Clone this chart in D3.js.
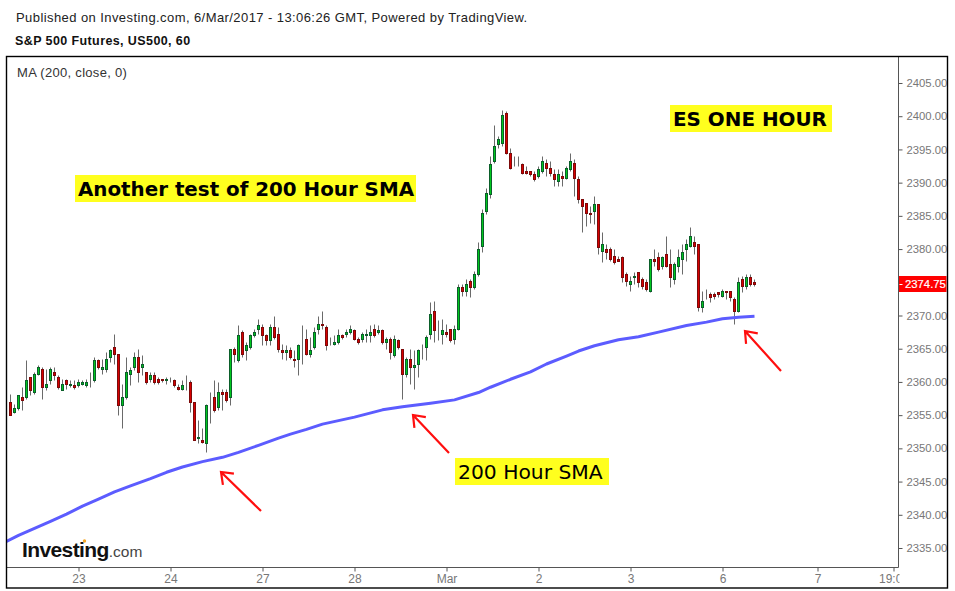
<!DOCTYPE html>
<html>
<head>
<script src="https://d3js.org/d3.v7.min.js"></script>
<style>
  body { margin: 0; background: #fff; }
  svg { display: block; font-family: "Liberation Sans", Arial, sans-serif; }
  .axis .domain { stroke: #555; }
  .axis line { stroke: #555; }
  .axis text { fill: #777; font-size: 11.3px; font-family: "Liberation Sans", Arial, sans-serif; }
  .xaxis text { font-size: 12px; }
</style>
</head>
<body>
<svg id="chart" width="955" height="591"></svg>
<script>
// hourly candles
const opens = [
  2357, 2355.5, 2356, 2357.75, 2357.75, 2360.75, 2358.5, 2361.25, 2362, 2359.25,
  2360.25, 2361.5, 2360.75, 2358.75, 2360.25, 2359.5, 2359.5, 2359.5, 2359.75, 2359.5,
  2359.75, 2360.25, 2363.25, 2362, 2362, 2363.75, 2365.25, 2364.25, 2356.5, 2357.75,
  2361.25, 2362.25, 2363.75, 2362.25, 2361.5, 2360.5, 2361, 2360.5, 2360.5, 2360.25,
  2360.25, 2360.25, 2359.25, 2359, 2359.5, 2360, 2357, 2351.5, 2351.25, 2350.75,
  2357.5, 2357.75, 2356.25, 2358.5, 2358.5, 2357.75, 2365, 2363.25, 2367.5, 2364.75,
  2365.25, 2367, 2368, 2368.25, 2367, 2366.25, 2368.25, 2367.25, 2364.75, 2364.5,
  2364.75, 2363.5, 2363.5, 2365.75, 2366.5, 2364.25, 2365.25, 2368, 2368.75, 2368.25,
  2365.75, 2365.75, 2366, 2367, 2367.25, 2367.5, 2367.75, 2366.5, 2366.5, 2367,
  2367, 2368, 2367.5, 2367.75, 2366, 2366.5, 2364, 2366.25, 2365, 2361.25,
  2363.5, 2362.25, 2362.75, 2364.75, 2365.25, 2367.25, 2370.75, 2367.5, 2367.25, 2367.5,
  2368, 2366.5, 2368, 2374.25, 2373.75, 2375.25, 2374.25, 2376.25, 2380.5, 2385.75,
  2388.25, 2393.25, 2395.75, 2396, 2400.5, 2394.5, 2393, 2393, 2392.75, 2391.75,
  2391.75, 2391.25, 2391, 2391.75, 2393, 2392.25, 2391.25, 2390.25, 2391, 2390.75,
  2392, 2393, 2390.5, 2387.5, 2387, 2385.5, 2385.75, 2386.75, 2379.75, 2380,
  2380, 2379, 2378.5, 2378.75, 2376.25, 2374.75, 2375.75, 2376.5, 2375.5, 2375,
  2373.75, 2378.5, 2378.75, 2377.5, 2379.25, 2377.75, 2375.5, 2377.5, 2378.5, 2380,
  2380.5, 2381, 2380.75, 2371.25, 2372.75, 2373.25, 2373.25, 2373.5, 2373, 2373.75,
  2373.75, 2372.5, 2370.75, 2375.5, 2374.5, 2375.75, 2375
];
const highs = [
  2358.25, 2356.75, 2358, 2359.25, 2363.25, 2360.75, 2361.5, 2362.5, 2362.25, 2362,
  2362.25, 2362.25, 2361, 2360.5, 2360.5, 2360.25, 2360.25, 2360.5, 2360.25, 2360.5,
  2361.5, 2363.75, 2363.5, 2363.5, 2364.5, 2365, 2367.25, 2364.25, 2359.75, 2363.75,
  2362.25, 2364.5, 2365, 2364, 2361.5, 2361.5, 2361.5, 2360.75, 2360.5, 2360.75,
  2360.75, 2360.5, 2359.75, 2360.25, 2361, 2360.25, 2357, 2354.25, 2353, 2356.75,
  2358.5, 2360.25, 2360, 2359, 2359, 2365, 2365.25, 2368.5, 2367.75, 2366,
  2367.25, 2368, 2369.5, 2368.75, 2367.25, 2368.75, 2370, 2368.25, 2365.75, 2365.5,
  2365.25, 2364.75, 2365.75, 2368.5, 2368, 2366.75, 2368.25, 2370, 2370.75, 2368.5,
  2366.75, 2367, 2368, 2367.25, 2368, 2368.5, 2368, 2366.75, 2367.5, 2368,
  2368.5, 2368.75, 2368.5, 2368, 2366.75, 2366.75, 2367, 2366.5, 2365, 2363.75,
  2365, 2364.75, 2365, 2365.75, 2367, 2372, 2372.25, 2369.25, 2369.5, 2368.75,
  2368, 2368.5, 2374.75, 2374.75, 2375.5, 2375.5, 2376.75, 2381, 2386, 2389.25,
  2394, 2398.75, 2397, 2401, 2400.75, 2395.25, 2394, 2394, 2393, 2392.5,
  2391.75, 2391.75, 2392.5, 2394, 2393.5, 2393.25, 2392, 2392, 2391.75, 2392.5,
  2394.5, 2393.5, 2391, 2387.5, 2387, 2386.5, 2388, 2386.75, 2382.5, 2380.75,
  2380.25, 2380, 2379, 2379, 2376.5, 2376, 2376.5, 2376.5, 2375.75, 2375.5,
  2378.5, 2380, 2379.5, 2379, 2382, 2380, 2378, 2380, 2380.75, 2381.5,
  2383.25, 2382, 2380.75, 2373.75, 2374, 2373.5, 2373.5, 2373.5, 2374, 2373.75,
  2373.75, 2372.75, 2375.75, 2376, 2376.25, 2376.25, 2375.5
];
const lows = [
  2355, 2355.25, 2355.75, 2355.75, 2357.5, 2358, 2358.25, 2361, 2357.5, 2358.75,
  2359.75, 2360.25, 2359, 2358.75, 2359, 2359.25, 2359, 2359.25, 2359.5, 2359.25,
  2359.25, 2360, 2362, 2361.25, 2361.5, 2363, 2362.75, 2355, 2353, 2357.5,
  2359.5, 2361.75, 2360, 2361, 2359.75, 2360, 2359.75, 2359.75, 2360, 2359.75,
  2360, 2359.25, 2358.75, 2358.75, 2358.75, 2355.5, 2351.25, 2350.75, 2350.75, 2349.5,
  2353.75, 2355.5, 2355.75, 2355.75, 2357, 2356.5, 2363, 2363, 2363.75, 2363.25,
  2365, 2366.75, 2367.25, 2365.5, 2365.5, 2365.5, 2366.5, 2364.5, 2363.5, 2363.25,
  2363.5, 2362.25, 2361, 2362.75, 2364, 2363.75, 2365, 2367.25, 2368, 2364.75,
  2365.5, 2365.5, 2365.75, 2366.5, 2366.75, 2367.25, 2366.25, 2365.75, 2366, 2366,
  2366, 2366.75, 2367.25, 2365.75, 2365, 2363.5, 2363.75, 2365, 2357.5, 2360.75,
  2359.75, 2359, 2360.75, 2363.5, 2363.25, 2366.5, 2366, 2366.25, 2365.75, 2366.75,
  2366, 2365.75, 2367.75, 2373, 2373, 2372.75, 2374, 2376, 2379.5, 2385.25,
  2387.75, 2393, 2395.25, 2395.5, 2394.25, 2392, 2392.5, 2392.5, 2391.25, 2391.25,
  2391, 2390.25, 2390.75, 2391.5, 2391, 2391, 2389.5, 2389.5, 2389.5, 2390.5,
  2391.75, 2388, 2387, 2382.5, 2383.5, 2384, 2383.75, 2379.25, 2378, 2378.5,
  2378.25, 2377.75, 2378.25, 2375, 2374.5, 2373.75, 2374.75, 2374.25, 2374, 2373.75,
  2373.5, 2377.5, 2376.75, 2377, 2377.25, 2374.25, 2374.75, 2376.5, 2376.25, 2378.25,
  2380.25, 2379.25, 2370.75, 2370.5, 2372.5, 2372, 2372.5, 2372.75, 2372.75, 2372.5,
  2372.25, 2368.75, 2370.5, 2373.5, 2374, 2374.5, 2374.5
];
const closes = [
  2355, 2356, 2358, 2357.25, 2360.25, 2358.75, 2361.25, 2362.25, 2359.25, 2359.75,
  2362, 2361, 2359.25, 2359.75, 2359.75, 2359.75, 2359.25, 2360, 2360, 2360,
  2359.75, 2363.25, 2362.25, 2362.25, 2363.5, 2364.75, 2364.25, 2356.5, 2357.75, 2361.5,
  2361.75, 2363.75, 2361.5, 2362.75, 2360, 2361, 2360, 2360, 2360.25, 2360.5,
  2360.25, 2359.5, 2359, 2359.5, 2359.5, 2357, 2351.25, 2351.75, 2351, 2356.5,
  2357.5, 2355.75, 2358.5, 2358.25, 2357.25, 2365, 2364.25, 2367, 2364.25, 2365.5,
  2367, 2367.5, 2368.5, 2367, 2366.25, 2368.25, 2366.75, 2365, 2364.5, 2364.75,
  2363.75, 2363.25, 2365.5, 2365.75, 2364.25, 2364.75, 2367.5, 2368.75, 2368.5, 2365.5,
  2365.75, 2366, 2367, 2366.75, 2367.5, 2368, 2366.5, 2366, 2367.25, 2367.25,
  2367.5, 2367, 2367.75, 2366, 2366.5, 2364.5, 2366.5, 2365.25, 2361.25, 2363.5,
  2362.25, 2362.5, 2364.75, 2364.75, 2366.75, 2370.25, 2367.75, 2367.5, 2367.75, 2367.25,
  2366.25, 2368, 2374.25, 2373.75, 2374.75, 2374.25, 2376.25, 2380, 2385.5, 2388.5,
  2392.75, 2395.5, 2396.5, 2400.25, 2394.5, 2392.25, 2393, 2393, 2391.5, 2391.5,
  2391.25, 2390.5, 2392, 2393.25, 2392.25, 2391.5, 2390.5, 2391.25, 2390.75, 2392.25,
  2393.25, 2390.75, 2387.5, 2386.5, 2385.5, 2385.25, 2386.75, 2380.25, 2380.75, 2379.5,
  2378.5, 2378, 2378.25, 2375.75, 2375.25, 2375.25, 2376, 2375, 2374.5, 2374,
  2378.5, 2378.25, 2377, 2378.75, 2377.5, 2375.75, 2377.75, 2378.75, 2379.5, 2380.75,
  2382, 2380.5, 2371.25, 2372.25, 2372.75, 2372.75, 2373, 2373.25, 2373.75, 2373.5,
  2372.75, 2370.75, 2375, 2374.5, 2375.75, 2374.75, 2374.75
];

// 200 period moving average, read at the bars where it bends
const maBars = [-1, 2, 6, 10, 14, 18, 22, 26, 30, 35, 39, 43, 48, 53, 57, 62, 67, 70, 74, 78, 86, 93, 98,
  105, 111, 117, 120, 125, 130, 134, 139, 142, 146, 152, 157, 162, 169, 174, 178, 182, 186];
const maValues = [2336, 2336.9, 2337.95, 2339, 2340.1, 2341.3, 2342.35, 2343.45, 2344.35, 2345.45, 2346.4,
  2347.2, 2348, 2348.65, 2349.4, 2350.45, 2351.55, 2352.15, 2352.85, 2353.65, 2354.7, 2355.8, 2356.25,
  2356.8, 2357.3, 2358.4, 2359.2, 2360.4, 2361.5, 2362.7, 2363.9, 2364.65, 2365.45, 2366.35, 2366.8,
  2367.5, 2368.5, 2369, 2369.5, 2369.75, 2369.9];

// 2375 sits behind the last price tag, so it has no label of its own
const priceTicks = [2335, 2340, 2345, 2350, 2355, 2360, 2365, 2370, 2380, 2385, 2390, 2395, 2400, 2405];
const timeBars = [17, 40, 63, 86, 109, 132, 155, 178, 201.75, 220.75];
const timeLabels = ["23", "24", "27", "28", "Mar", "2", "3", "6", "7", "19:00"];
const lastPrice = 2374.75;

const svg = d3.select("#chart");

const xScale = d3.scaleLinear().domain([0, 186]).range([10.5, 754.5]);
const yScale = d3.scaleLinear().domain([2335, 2405]).range([548, 83]);
const plotRight = 898.5, plotBottom = 567.5, plotLeft = 6.5, plotTop = 56.5;

// crisp pixel positions for the candles
const px = v => Math.floor(xScale(v)) + 0.5;
const py = v => Math.round(yScale(v)) + 0.5;

const defs = svg.append("defs");
defs.append("clipPath").attr("id", "plotClip")
  .append("rect").attr("x", plotLeft).attr("y", plotTop)
  .attr("width", plotRight - plotLeft).attr("height", plotBottom - plotTop);
defs.append("clipPath").attr("id", "xAxisClip")
  .append("rect").attr("x", plotLeft).attr("y", plotBottom - 1)
  .attr("width", plotRight - plotLeft + 1).attr("height", 21);

// header
svg.append("text").attr("x", 16).attr("y", 22).attr("font-size", 13).attr("letter-spacing", 0.42).attr("fill", "#222")
  .text("Published on Investing.com, 6/Mar/2017 - 13:06:26 GMT, Powered by TradingView.");
svg.append("text").attr("x", 15).attr("y", 45).attr("font-size", 12.5).attr("font-weight", "bold").attr("letter-spacing", 0.4).attr("fill", "#111")
  .text("S&P 500 Futures, US500, 60");
svg.append("text").attr("x", 17).attr("y", 77).attr("font-size", 13).attr("letter-spacing", 0.3).attr("fill", "#333")
  .text("MA (200, close, 0)");

// axes
const rightAxis = d3.axisRight(yScale).tickValues(priceTicks).tickSize(4).tickPadding(4).tickFormat(d => d.toFixed(2));
const yAxisG = svg.append("g").attr("class", "axis").attr("transform", `translate(${plotRight},0)`).call(rightAxis);
yAxisG.select(".domain").attr("d", `M0,${plotTop}V${plotBottom}`);

const bottomAxis = d3.axisBottom(xScale).tickValues(timeBars).tickSize(4).tickPadding(3)
  .tickFormat((d, i) => timeLabels[i]);
// the last label runs past the plot edge and gets cut there, like the original
const xAxisG = svg.append("g").attr("clip-path", "url(#xAxisClip)")
  .append("g").attr("class", "axis xaxis").attr("transform", `translate(0,${plotBottom})`).call(bottomAxis);
xAxisG.select(".domain").attr("d", `M${plotLeft},0H${plotRight}`);

// candles
const candles = d3.range(opens.length);
const plot = svg.append("g").attr("clip-path", "url(#plotClip)");

plot.selectAll("line.wick").data(candles).join("line")
  .attr("class", "wick")
  .attr("x1", d => px(d)).attr("x2", d => px(d))
  .attr("y1", d => py(highs[d])).attr("y2", d => py(lows[d]))
  .attr("stroke", "#6a6a6a").attr("stroke-width", 1);

plot.selectAll("rect.body").data(candles).join("rect")
  .attr("class", "body")
  .attr("x", d => px(d) - 1)
  .attr("width", 2)
  .attr("y", d => py(Math.max(opens[d], closes[d])))
  .attr("height", d => Math.abs(py(opens[d]) - py(closes[d])))
  .attr("fill", d => closes[d] >= opens[d] ? "#00c81e" : "#d80000")
  .attr("stroke", d => closes[d] >= opens[d] ? "#0b5f2a" : "#7c0a0a")
  .attr("stroke-width", 1);

// moving average
plot.append("path")
  .datum(maBars)
  .attr("fill", "none")
  .attr("stroke", "#5c5cff")
  .attr("stroke-width", 3)
  .attr("stroke-linejoin", "round")
  .attr("d", d3.line().x(d => xScale(d)).y((d, i) => yScale(maValues[i])));

// last price tag
const tagY = Math.round(yScale(lastPrice));
svg.append("rect").attr("x", plotRight + 0.5).attr("y", tagY - 8).attr("width", 47.5).attr("height", 16).attr("fill", "#ff0000");
svg.append("line").attr("x1", plotRight + 1).attr("x2", plotRight + 4).attr("y1", tagY + 0.5).attr("y2", tagY + 0.5).attr("stroke", "#fff");
svg.append("text").attr("x", 905).attr("y", tagY + 4).attr("font-size", 11.3).attr("fill", "#fff").attr("stroke", "#fff").attr("stroke-width", 0.2).text(lastPrice.toFixed(2));

// frame
svg.append("rect").attr("x", plotLeft).attr("y", plotTop).attr("width", 941).attr("height", 531.5)
  .attr("fill", "none").attr("stroke", "#000").attr("stroke-width", 1.4);

// yellow notes
function note(x, y, w, h, label, bold, size, tx) {
  svg.append("rect").attr("x", x).attr("y", y).attr("width", w).attr("height", h).attr("fill", "#ffff1e");
  svg.append("text").attr("x", tx).attr("y", y + 20.5).attr("font-family", "DejaVu Sans").attr("font-size", size)
    .attr("font-weight", bold ? "bold" : "normal").attr("fill", "#000").text(label);
}
note(75, 175, 341, 27, "Another test of 200 Hour SMA", true, 19.85, 78);
note(670, 105, 162, 27, "ES ONE HOUR", true, 19.9, 673);
note(455, 458, 154, 27, "200 Hour SMA", false, 20.3, 458);

// red arrows
const arrows = [[261, 511, 221, 472], [449, 453, 413, 415], [781, 371, 745, 331]];
arrows.forEach(a => {
  const ang = Math.atan2(a[1] - a[3], a[0] - a[2]);
  const head = s => [a[2] + 13 * Math.cos(ang + s), a[3] + 13 * Math.sin(ang + s)];
  const h1 = head(0.65), h2 = head(-0.65);
  svg.append("path")
    .attr("d", `M${a[0]},${a[1]}L${a[2]},${a[3]}M${h1[0]},${h1[1]}L${a[2]},${a[3]}L${h2[0]},${h2[1]}`)
    .attr("fill", "none").attr("stroke", "#ff0f0f").attr("stroke-width", 2.2);
});

// logo
const logo = svg.append("text").attr("x", 22).attr("y", 557).attr("fill", "#111");
logo.append("tspan").attr("font-size", 21).attr("font-weight", "bold").attr("letter-spacing", -0.6).text("Investing");
logo.append("tspan").attr("font-size", 15.5).attr("fill", "#444").text(".com");
svg.append("circle").attr("cx", 84.5).attr("cy", 541).attr("r", 1.7).attr("fill", "#f5a623");
</script>
</body>
</html>
